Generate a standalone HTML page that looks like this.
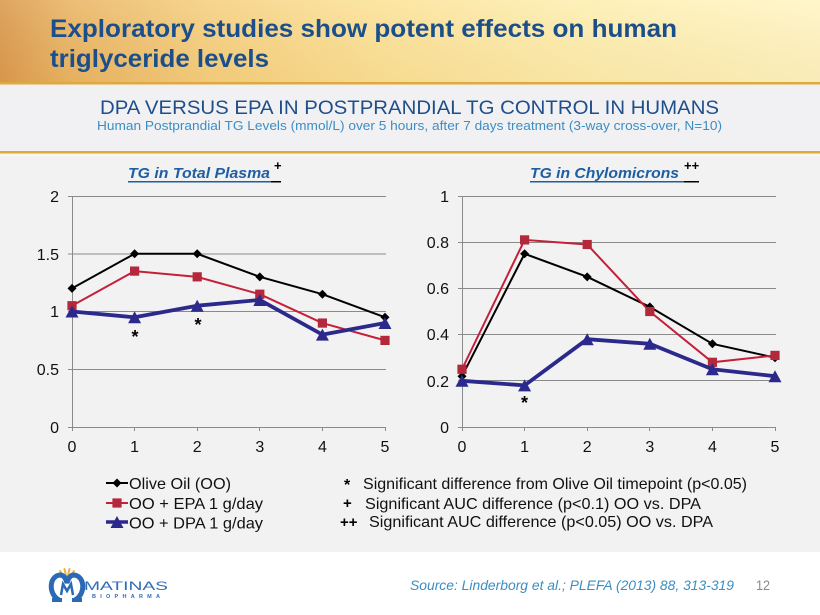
<!DOCTYPE html>
<html>
<head>
<meta charset="utf-8">
<style>
  html,body{margin:0;padding:0;background:#fff;}
  svg{display:block;}
  text{font-family:"Liberation Sans", Arial, sans-serif;}
</style>
</head>
<body>
<svg width="820" height="615" viewBox="0 0 820 615" xmlns="http://www.w3.org/2000/svg">
  <defs>
    <linearGradient id="hdr" x1="0" y1="0" x2="1" y2="0">
      <stop offset="0" stop-color="#d9984c"/>
      <stop offset="0.08" stop-color="#e8b363"/>
      <stop offset="0.25" stop-color="#f5cf7f"/>
      <stop offset="0.45" stop-color="#fbe196"/>
      <stop offset="0.7" stop-color="#fdeeaf"/>
      <stop offset="1" stop-color="#fff5c4"/>
    </linearGradient>
    <linearGradient id="hdrv" x1="0" y1="0" x2="0" y2="1">
      <stop offset="0" stop-color="#ffffff" stop-opacity="0.12"/>
      <stop offset="1" stop-color="#c08030" stop-opacity="0.08"/>
    </linearGradient>
  </defs>

  <!-- backgrounds -->
  <rect x="0" y="0" width="820" height="615" fill="#ffffff"/>
  <rect x="0" y="0" width="820" height="83" fill="url(#hdr)"/>
  <rect x="0" y="0" width="820" height="83" fill="url(#hdrv)"/>
  <rect x="0" y="82" width="820" height="2.5" fill="#dfa93d"/>
  <rect x="0" y="84.5" width="820" height="66.5" fill="#f1f1f4"/>
  <rect x="0" y="151" width="820" height="2.5" fill="#dfa93d"/>
  <rect x="0" y="153.5" width="820" height="398.5" fill="#f2f2f2"/>
  <rect x="0" y="153.5" width="820" height="3" fill="#f6f6f3"/>

  <!-- Title -->
  <text x="50" y="37" font-size="25" font-weight="bold" fill="#1b4f8b" textLength="627" lengthAdjust="spacingAndGlyphs">Exploratory studies show potent effects on human</text>
  <text x="50" y="67" font-size="25" font-weight="bold" fill="#1b4f8b" textLength="219" lengthAdjust="spacingAndGlyphs">triglyceride levels</text>

  <!-- Subtitles -->
  <text x="100" y="114" font-size="19.5" fill="#1f4e8a" textLength="619" lengthAdjust="spacingAndGlyphs">DPA VERSUS EPA IN POSTPRANDIAL TG CONTROL IN HUMANS</text>
  <text x="97" y="130" font-size="13" fill="#3b8ec3" textLength="625" lengthAdjust="spacingAndGlyphs">Human Postprandial TG Levels (mmol/L) over 5 hours, after 7 days treatment (3-way cross-over, N=10)</text>

  <!-- ================= LEFT CHART ================= -->
  <text x="128" y="178" font-size="15" font-weight="bold" font-style="italic" fill="#1f5ea3" textLength="142" lengthAdjust="spacingAndGlyphs">TG in Total Plasma</text>
  <rect x="128" y="181" width="143" height="1.5" fill="#1f5ea3"/>
  <rect x="271" y="181" width="10" height="1.5" fill="#000"/>
  <text x="274" y="170" font-size="13" font-weight="bold" fill="#000">+</text>

  <g stroke="#8a8a8a" stroke-width="1" shape-rendering="crispEdges">
    <line x1="68" y1="196.5" x2="386" y2="196.5"/>
    <line x1="68" y1="254" x2="386" y2="254"/>
    <line x1="68" y1="311.5" x2="386" y2="311.5"/>
    <line x1="68" y1="369.5" x2="386" y2="369.5"/>
    <line x1="68" y1="427.5" x2="386" y2="427.5"/>
    <line x1="72.5" y1="196" x2="72.5" y2="431"/>
    <line x1="134.5" y1="427" x2="134.5" y2="431"/>
    <line x1="197.5" y1="427" x2="197.5" y2="431"/>
    <line x1="259.5" y1="427" x2="259.5" y2="431"/>
    <line x1="322.5" y1="427" x2="322.5" y2="431"/>
    <line x1="385.5" y1="427" x2="385.5" y2="431"/>
  </g>
  <g font-size="16" fill="#111" text-anchor="end">
    <text x="59" y="202">2</text>
    <text x="59" y="260">1.5</text>
    <text x="59" y="317">1</text>
    <text x="59" y="375">0.5</text>
    <text x="59" y="433">0</text>
  </g>
  <g font-size="16" fill="#111" text-anchor="middle">
    <text x="72" y="452">0</text>
    <text x="134.6" y="452">1</text>
    <text x="197.2" y="452">2</text>
    <text x="259.8" y="452">3</text>
    <text x="322.4" y="452">4</text>
    <text x="385" y="452">5</text>
  </g>

  <!-- OO -->
  <polyline fill="none" stroke="#000" stroke-width="2" points="72,288.4 134.6,253.75 197.2,253.75 259.8,276.85 322.4,294.2 385,317.3"/>
  <g fill="#000">
    <polygon points="72,283.9 76.5,288.4 72,292.9 67.5,288.4"/>
    <polygon points="134.6,249.25 139.1,253.75 134.6,258.25 130.1,253.75"/>
    <polygon points="197.2,249.25 201.7,253.75 197.2,258.25 192.7,253.75"/>
    <polygon points="259.8,272.35 264.3,276.85 259.8,281.35 255.3,276.85"/>
    <polygon points="322.4,289.7 326.9,294.2 322.4,298.7 317.9,294.2"/>
    <polygon points="385,312.8 389.5,317.3 385,321.8 380.5,317.3"/>
  </g>
  <!-- EPA -->
  <polyline fill="none" stroke="#c4203a" stroke-width="2" points="72,305.7 134.6,271.1 197.2,276.85 259.8,294.2 322.4,323.05 385,340.4"/>
  <g fill="#b3283b">
    <rect x="67.4" y="301.1" width="9.2" height="9.2"/>
    <rect x="130" y="266.5" width="9.2" height="9.2"/>
    <rect x="192.6" y="272.25" width="9.2" height="9.2"/>
    <rect x="255.2" y="289.6" width="9.2" height="9.2"/>
    <rect x="317.8" y="318.45" width="9.2" height="9.2"/>
    <rect x="380.4" y="335.8" width="9.2" height="9.2"/>
  </g>
  <!-- DPA -->
  <polyline fill="none" stroke="#2b2a8c" stroke-width="3.8" stroke-linejoin="round" points="72,311.5 134.6,317.3 197.2,305.7 259.8,299.95 322.4,334.6 385,323.05"/>
  <g fill="#2b2a8c">
    <polygon points="65.5,317.5 78.5,317.5 72,305.5"/>
    <polygon points="128.1,323.3 141.1,323.3 134.6,311.3"/>
    <polygon points="190.7,311.7 203.7,311.7 197.2,299.7"/>
    <polygon points="253.3,305.95 266.3,305.95 259.8,293.95"/>
    <polygon points="315.9,340.6 328.9,340.6 322.4,328.6"/>
    <polygon points="378.5,329.05 391.5,329.05 385,317.05"/>
  </g>
  <text x="135" y="343" font-size="18" font-weight="bold" fill="#000" text-anchor="middle">*</text>
  <text x="198" y="331" font-size="18" font-weight="bold" fill="#000" text-anchor="middle">*</text>

  <!-- ================= RIGHT CHART ================= -->
  <text x="530" y="178" font-size="15" font-weight="bold" font-style="italic" fill="#1f5ea3" textLength="149" lengthAdjust="spacingAndGlyphs">TG in Chylomicrons</text>
  <rect x="530" y="181" width="154" height="1.5" fill="#1f5ea3"/>
  <rect x="684" y="181" width="15" height="1.5" fill="#000"/>
  <text x="684" y="170" font-size="13" font-weight="bold" fill="#000">++</text>

  <g stroke="#8a8a8a" stroke-width="1" shape-rendering="crispEdges">
    <line x1="458" y1="196.5" x2="776" y2="196.5"/>
    <line x1="458" y1="242.5" x2="776" y2="242.5"/>
    <line x1="458" y1="288.5" x2="776" y2="288.5"/>
    <line x1="458" y1="334.5" x2="776" y2="334.5"/>
    <line x1="458" y1="380.5" x2="776" y2="380.5"/>
    <line x1="458" y1="427.5" x2="776" y2="427.5"/>
    <line x1="462.5" y1="196" x2="462.5" y2="431"/>
    <line x1="524.5" y1="427" x2="524.5" y2="431"/>
    <line x1="587.5" y1="427" x2="587.5" y2="431"/>
    <line x1="649.5" y1="427" x2="649.5" y2="431"/>
    <line x1="712.5" y1="427" x2="712.5" y2="431"/>
    <line x1="775.5" y1="427" x2="775.5" y2="431"/>
  </g>
  <g font-size="16" fill="#111" text-anchor="end">
    <text x="449" y="202">1</text>
    <text x="449" y="248">0.8</text>
    <text x="449" y="294">0.6</text>
    <text x="449" y="340">0.4</text>
    <text x="449" y="387">0.2</text>
    <text x="449" y="433">0</text>
  </g>
  <g font-size="16" fill="#111" text-anchor="middle">
    <text x="462" y="452">0</text>
    <text x="524.6" y="452">1</text>
    <text x="587.2" y="452">2</text>
    <text x="649.8" y="452">3</text>
    <text x="712.4" y="452">4</text>
    <text x="775" y="452">5</text>
  </g>

  <!-- OO -->
  <polyline fill="none" stroke="#000" stroke-width="2" points="462,376.2 524.6,253.75 587.2,276.85 649.8,306.9 712.4,343.8 775,357.7"/>
  <g fill="#000">
    <polygon points="462,371.7 466.5,376.2 462,380.7 457.5,376.2"/>
    <polygon points="524.6,249.25 529.1,253.75 524.6,258.25 520.1,253.75"/>
    <polygon points="587.2,272.35 591.7,276.85 587.2,281.35 582.7,276.85"/>
    <polygon points="649.8,302.4 654.3,306.9 649.8,311.4 645.3,306.9"/>
    <polygon points="712.4,339.3 716.9,343.8 712.4,348.3 707.9,343.8"/>
    <polygon points="775,353.2 779.5,357.7 775,362.2 770.5,357.7"/>
  </g>
  <!-- EPA -->
  <polyline fill="none" stroke="#c4203a" stroke-width="2" points="462,369.25 524.6,239.9 587.2,244.5 649.8,311.5 712.4,362.3 775,355.4"/>
  <g fill="#b3283b">
    <rect x="457.4" y="364.65" width="9.2" height="9.2"/>
    <rect x="520" y="235.3" width="9.2" height="9.2"/>
    <rect x="582.6" y="239.9" width="9.2" height="9.2"/>
    <rect x="645.2" y="306.9" width="9.2" height="9.2"/>
    <rect x="707.8" y="357.7" width="9.2" height="9.2"/>
    <rect x="770.4" y="350.8" width="9.2" height="9.2"/>
  </g>
  <!-- DPA -->
  <polyline fill="none" stroke="#2b2a8c" stroke-width="3.8" stroke-linejoin="round" points="462,380.8 524.6,385.4 587.2,339.2 649.8,343.8 712.4,369.25 775,376.2"/>
  <g fill="#2b2a8c">
    <polygon points="455.5,386.8 468.5,386.8 462,374.8"/>
    <polygon points="518.1,391.4 531.1,391.4 524.6,379.4"/>
    <polygon points="580.7,345.2 593.7,345.2 587.2,333.2"/>
    <polygon points="643.3,349.8 656.3,349.8 649.8,337.8"/>
    <polygon points="705.9,375.25 718.9,375.25 712.4,363.25"/>
    <polygon points="768.5,382.2 781.5,382.2 775,370.2"/>
  </g>
  <text x="524.5" y="409" font-size="18" font-weight="bold" fill="#000" text-anchor="middle">*</text>

  <!-- ================= LEGEND ================= -->
  <line x1="106" y1="483" x2="128" y2="483" stroke="#000" stroke-width="2"/>
  <polygon points="117,478.5 121.5,483 117,487.5 112.5,483" fill="#000"/>
  <text x="129" y="489" font-size="16" fill="#111" textLength="102" lengthAdjust="spacingAndGlyphs">Olive Oil (OO)</text>

  <line x1="106" y1="503" x2="128" y2="503" stroke="#c4203a" stroke-width="2"/>
  <rect x="112.4" y="498.4" width="9.2" height="9.2" fill="#b3283b"/>
  <text x="129" y="509" font-size="16" fill="#111" textLength="134" lengthAdjust="spacingAndGlyphs">OO + EPA 1 g/day</text>

  <line x1="106" y1="522" x2="128" y2="522" stroke="#2b2a8c" stroke-width="3.5"/>
  <polygon points="110.5,528 123.5,528 117,516" fill="#2b2a8c"/>
  <text x="129" y="528.5" font-size="16" fill="#111" textLength="134" lengthAdjust="spacingAndGlyphs">OO + DPA 1 g/day</text>

  <!-- annotations -->
  <text x="344" y="490" font-size="16" font-weight="bold" fill="#000">*</text>
  <text x="363" y="489" font-size="16" fill="#111" textLength="384" lengthAdjust="spacingAndGlyphs">Significant difference from Olive Oil timepoint  (p&lt;0.05)</text>
  <text x="343" y="508" font-size="15" font-weight="bold" fill="#000">+</text>
  <text x="365" y="509" font-size="16" fill="#111" textLength="336" lengthAdjust="spacingAndGlyphs">Significant AUC difference  (p&lt;0.1) OO vs. DPA</text>
  <text x="340" y="527" font-size="15" font-weight="bold" fill="#000">++</text>
  <text x="369" y="527" font-size="16" fill="#111" textLength="344" lengthAdjust="spacingAndGlyphs">Significant AUC difference  (p&lt;0.05) OO vs. DPA</text>

  <!-- ================= FOOTER ================= -->
  <g>
    <g stroke="#e8b24a" stroke-width="2" stroke-linecap="round">
      <line x1="67" y1="581" x2="60" y2="571"/>
      <line x1="67" y1="580" x2="64.5" y2="569"/>
      <line x1="67" y1="580" x2="69.5" y2="569"/>
      <line x1="67" y1="581" x2="74" y2="571"/>
    </g>
    <path d="M59 600 C48 594, 49 576, 60 575 C64 575, 66 579, 67 583 C68 579, 70 575, 74 575 C85 576, 86 594, 75 600" fill="none" stroke="#2a6ab4" stroke-width="5"/>
    <rect x="52" y="598" width="10" height="4" fill="#2a6ab4"/>
    <rect x="72" y="598" width="10" height="4" fill="#2a6ab4"/>
    <path d="M61 595 L63 584 L67 591 L71 584 L73 595" fill="none" stroke="#2a6ab4" stroke-width="2.5"/>
  </g>
  <text x="84" y="590" font-size="12" fill="#2e6db5" textLength="84" lengthAdjust="spacingAndGlyphs">MATINAS</text>
  <text x="92" y="598" font-size="5.5" font-weight="bold" fill="#2e6db5" textLength="68" lengthAdjust="spacing">BIOPHARMA</text>

  <text x="410" y="590" font-size="14" font-style="italic" fill="#3b8ec3" textLength="324" lengthAdjust="spacingAndGlyphs">Source:  Linderborg et al.; PLEFA (2013) 88, 313-319</text>
  <text x="756" y="590" font-size="14" fill="#8a8a8a" textLength="14" lengthAdjust="spacingAndGlyphs">12</text>
</svg>
</body>
</html>
